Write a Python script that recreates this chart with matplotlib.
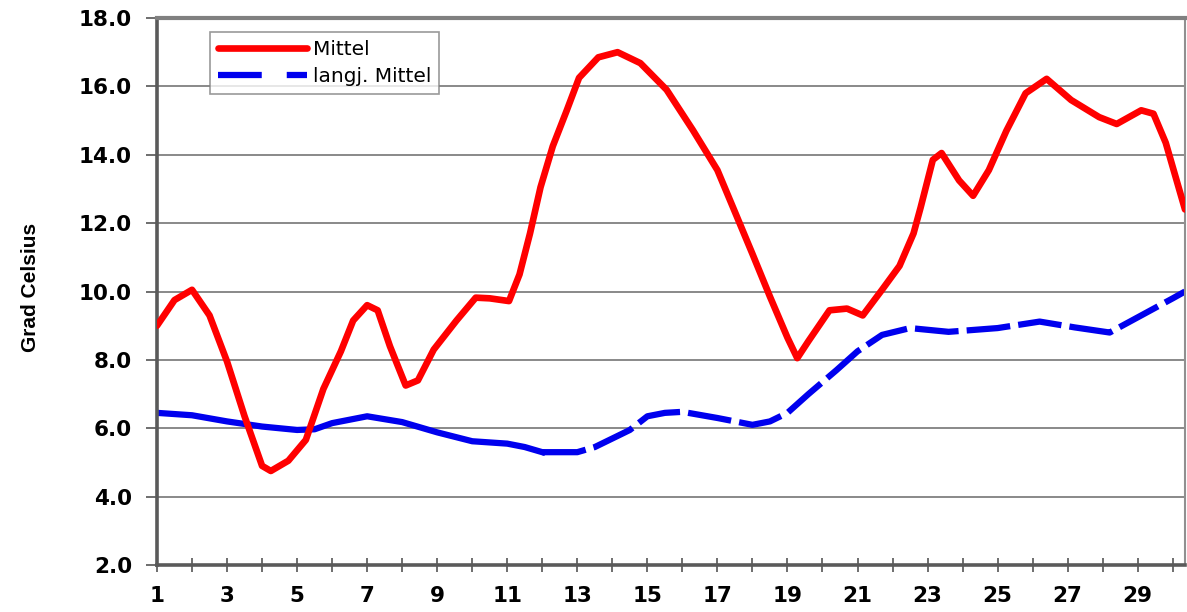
import matplotlib
matplotlib.use("Agg")
import matplotlib.pyplot as plt
from matplotlib.lines import Line2D

# Tagesmittel (red)
mittel_tag = [1, 1.5, 2, 2.5, 3, 3.5, 4, 4.25, 4.75, 5.25, 5.75, 6.25, 6.6, 7, 7.3,
              7.65, 8.1, 8.45, 8.9, 9.55, 10.1, 10.5, 11.05, 11.35, 11.65, 11.95,
              12.3, 12.7, 13.05, 13.6, 14.15, 14.8, 15.55, 16.3, 17, 17.45, 18,
              18.5, 19, 19.28, 19.6, 20.2, 20.7, 21.15, 21.7, 22.2, 22.6, 22.8,
              23.15, 23.4, 23.9, 24.3, 24.75, 25.25, 25.8, 26.4, 27.1, 27.9, 28.4,
              29.1, 29.45, 29.8, 30.35]
mittel = [9.0, 9.75, 10.05, 9.3, 7.95, 6.35, 4.9, 4.75, 5.05, 5.66, 7.15, 8.25, 9.15,
          9.6, 9.45, 8.4, 7.25, 7.4, 8.3, 9.15, 9.82, 9.8, 9.72, 10.5, 11.7, 13.05,
          14.25, 15.3, 16.25, 16.85, 17.0, 16.68, 15.9, 14.72, 13.55, 12.45, 11.1,
          9.85, 8.65, 8.05, 8.55, 9.45, 9.5, 9.3, 10.05, 10.75, 11.7, 12.45, 13.85,
          14.05, 13.25, 12.8, 13.55, 14.7, 15.8, 16.22, 15.6, 15.1, 14.9, 15.3,
          15.2, 14.35, 12.4]

# langjaehriges Mittel (blue)
lang_tag = [1, 2, 3, 4, 5, 5.5, 6, 7, 8, 9, 10, 11, 11.5, 12, 13, 13.5, 14, 14.5, 15,
            15.5, 16, 17, 18, 18.5, 19, 19.6, 20.4, 21, 21.7, 22.5, 23.6, 25, 26.2,
            27.2, 28.2, 29.1, 30, 30.35]
lang = [6.45, 6.38, 6.2, 6.05, 5.95, 5.97, 6.15, 6.35, 6.18, 5.88, 5.62, 5.55, 5.45,
        5.3, 5.3, 5.45, 5.7, 5.95, 6.35, 6.45, 6.48, 6.3, 6.1, 6.2, 6.45, 7.0, 7.7,
        8.25, 8.73, 8.93, 8.82, 8.93, 9.12, 8.95, 8.8, 9.3, 9.8, 10.0]

x_ticks = list(range(1, 31))
x_labels = [str(d) if d % 2 == 1 else "" for d in x_ticks]
y_ticks = [2, 4, 6, 8, 10, 12, 14, 16, 18]

plt.rcParams['font.family'] = ['DejaVu Sans']

fig = plt.figure(figsize=(11.87, 6.12), dpi=100)
ax = fig.add_axes([157 / 1187, 1 - 565 / 612, (1185 - 157) / 1187, (565 - 18) / 612])

ax.set_xlim(1, 30.35)
ax.set_ylim(2, 18)

for y in y_ticks[1:-1]:
    ax.axhline(y, color='#808080', lw=1.3, zorder=1)

ax.plot(mittel_tag, mittel, color='#ff0000', lw=4.8, solid_joinstyle='round',
        solid_capstyle='round', zorder=3)

# the blue line is drawn solid at first and long-dashed later on
split = lang_tag.index(12)
ax.plot(lang_tag[:split + 1], lang[:split + 1], color='#0000ee', lw=4.5,
        solid_joinstyle='round', zorder=2)
ax.plot(lang_tag[split:], lang[split:], color='#0000ee', lw=4.5,
        dashes=(7, 1.3), zorder=2)

ax.set_yticks(y_ticks)
ax.set_yticklabels([f"{v:.1f}" for v in y_ticks], fontsize=15.5, fontweight='bold')
ax.set_xticks(x_ticks)
ax.set_xticklabels(x_labels, fontsize=15.5, fontweight='bold')
ax.tick_params(axis='y', direction='out', length=8, width=1.2, color='#555555', pad=10)
ax.tick_params(axis='x', direction='inout', length=10, width=1.2, color='#555555', pad=10)

for side in ['left', 'bottom']:
    ax.spines[side].set_color('#5a5a5a')
    ax.spines[side].set_linewidth(2.6)
ax.spines['top'].set_color('#808080')
ax.spines['top'].set_linewidth(3.0)
ax.spines['right'].set_color('#909090')
ax.spines['right'].set_linewidth(1.5)

handles = [
    Line2D([], [], color='#ff0000', lw=4.8, solid_capstyle='round'),
    Line2D([], [], color='#0000ee', lw=4.5, dashes=(7, 4)),
]
leg = fig.legend(handles, ['Mittel', 'langj. Mittel'], loc='upper left',
                 bbox_to_anchor=(210 / 1187, 1 - 32 / 612), fontsize=14.5,
                 frameon=True, fancybox=False, handlelength=4.4, handletextpad=0.3,
                 borderpad=0.4, labelspacing=0.4, borderaxespad=0)
leg.get_frame().set_edgecolor('#808080')
leg.get_frame().set_linewidth(1.2)

fig.text(30 / 1187, 1 - 287 / 612, 'Grad Celsius', rotation=90, fontsize=15,
         family=['Liberation Sans'], fontweight='bold',
         ha='center', va='center')

fig.savefig('out.png', dpi=100)
